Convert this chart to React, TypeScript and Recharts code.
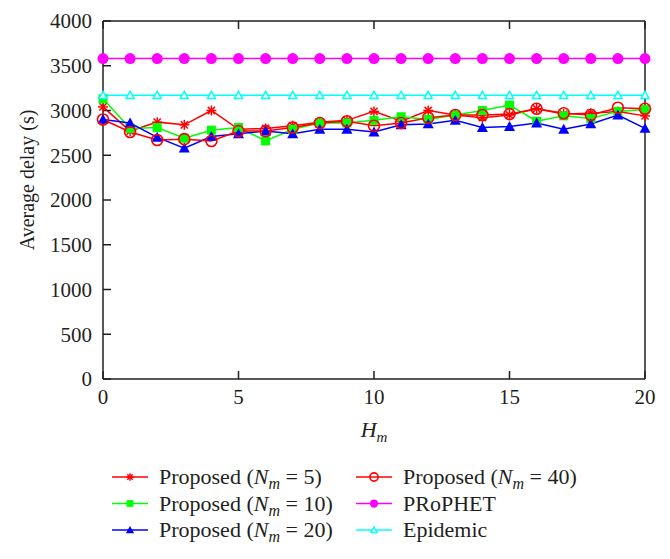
import { Line, LineChart, XAxis, YAxis, Label } from "recharts"

const hm = [0, 1, 2, 3, 4, 5, 6, 7, 8, 9, 10, 11, 12, 13, 14, 15, 16, 17, 18, 19, 20]
const proposed5 = [3040, 2770, 2870, 2840, 3000, 2790, 2800, 2830, 2870, 2890, 2990, 2880, 3000, 2950, 2920, 2950, 3020, 2960, 2970, 2990, 2940]
const proposed10 = [3130, 2800, 2810, 2690, 2780, 2810, 2660, 2790, 2860, 2860, 2890, 2930, 2900, 2950, 3000, 3060, 2880, 2940, 2910, 2990, 3010]
const proposed20 = [2900, 2860, 2700, 2580, 2710, 2740, 2770, 2740, 2790, 2790, 2760, 2840, 2850, 2890, 2810, 2820, 2860, 2790, 2850, 2950, 2800]
const proposed40 = [2900, 2760, 2670, 2680, 2660, 2770, 2770, 2810, 2860, 2880, 2830, 2860, 2920, 2950, 2950, 2960, 3020, 2970, 2950, 3030, 3020]
const prophet = [3580, 3580, 3580, 3580, 3580, 3580, 3580, 3580, 3580, 3580, 3580, 3580, 3580, 3580, 3580, 3580, 3580, 3580, 3580, 3580, 3580]
const epidemic = [3170, 3170, 3170, 3170, 3170, 3170, 3170, 3170, 3170, 3170, 3170, 3170, 3170, 3170, 3170, 3170, 3170, 3170, 3170, 3170, 3170]

const xTicks = [0, 5, 10, 15, 20]
const yTicks = [0, 500, 1000, 1500, 2000, 2500, 3000, 3500, 4000]

const RED = "#ff0000"
const GREEN = "#00ff00"
const BLUE = "#0000ff"
const MAGENTA = "#ff00ff"
const CYAN = "#00ffff"
const FONT = "'Liberation Serif', 'Times New Roman', serif"

const data = hm.map((h, i) => ({
  h,
  p5: proposed5[i],
  p10: proposed10[i],
  p20: proposed20[i],
  p40: proposed40[i],
  prophet: prophet[i],
  epidemic: epidemic[i],
}))

type Shape = "star" | "square" | "triangle" | "circle" | "dot" | "openTriangle"

function Marker({ shape, cx, cy, color, s = 1 }: { shape: Shape; cx: number; cy: number; color: string; s?: number }) {
  if (shape === "star") {
    const r = 5 * s
    const d = r * 0.72
    return (
      <g stroke={color} strokeWidth={1.5}>
        <line x1={cx - r} y1={cy} x2={cx + r} y2={cy} />
        <line x1={cx} y1={cy - r} x2={cx} y2={cy + r} />
        <line x1={cx - d} y1={cy - d} x2={cx + d} y2={cy + d} />
        <line x1={cx - d} y1={cy + d} x2={cx + d} y2={cy - d} />
      </g>
    )
  }
  if (shape === "square") {
    const r = 4.5 * s
    return <rect x={cx - r} y={cy - r} width={2 * r} height={2 * r} fill={color} />
  }
  if (shape === "triangle") {
    const r = 5.5 * s
    return <polygon points={`${cx},${cy - r} ${cx + r},${cy + r * 0.8} ${cx - r},${cy + r * 0.8}`} fill={color} />
  }
  if (shape === "openTriangle") {
    const r = 4 * s
    return (
      <polygon
        points={`${cx},${cy - r} ${cx + r},${cy + r * 0.8} ${cx - r},${cy + r * 0.8}`}
        fill="white"
        stroke={color}
        strokeWidth={1.5}
      />
    )
  }
  if (shape === "dot") {
    return <circle cx={cx} cy={cy} r={5.5 * s} fill={color} />
  }
  return <circle cx={cx} cy={cy} r={5.5 * s} fill="none" stroke={color} strokeWidth={1.6} />
}

const dotFor = (shape: Shape, color: string) => (props: any) => (
  <Marker key={`${shape}-${props.index}`} shape={shape} cx={props.cx} cy={props.cy} color={color} />
)

const series: { key: string; color: string; shape: Shape }[] = [
  { key: "p5", color: RED, shape: "star" },
  { key: "p10", color: GREEN, shape: "square" },
  { key: "p20", color: BLUE, shape: "triangle" },
  { key: "p40", color: RED, shape: "circle" },
  { key: "prophet", color: MAGENTA, shape: "dot" },
  { key: "epidemic", color: CYAN, shape: "openTriangle" },
]

const legendItems: { n?: string; name?: string; color: string; shape: Shape; col: number; row: number }[] = [
  { n: "5", color: RED, shape: "star", col: 0, row: 0 },
  { n: "10", color: GREEN, shape: "square", col: 0, row: 1 },
  { n: "20", color: BLUE, shape: "triangle", col: 0, row: 2 },
  { n: "40", color: RED, shape: "circle", col: 1, row: 0 },
  { name: "PRoPHET", color: MAGENTA, shape: "dot", col: 1, row: 1 },
  { name: "Epidemic", color: CYAN, shape: "openTriangle", col: 1, row: 2 },
]

function ChartLegend() {
  const colX = [112, 356]
  const rowY = [477, 503.5, 530]
  return (
    <svg width={670} height={100} style={{ position: "absolute", left: 0, top: 0, overflow: "visible" }}>
      {legendItems.map((it) => {
        const x = colX[it.col]
        const y = rowY[it.row]
        return (
          <g key={`${it.col}-${it.row}`}>
            <line x1={x} y1={y} x2={x + 36} y2={y} stroke={it.color} strokeWidth={1.5} />
            <Marker shape={it.shape} cx={x + 18} cy={y} color={it.color} s={0.75} />
            <text x={x + 47} y={y + 7} fontFamily={FONT} fontSize={22} fill="#231f20">
              {it.name ? (
                it.name
              ) : (
                <>
                  <tspan>Proposed (</tspan>
                  <tspan fontStyle="italic">N</tspan>
                  <tspan fontStyle="italic" fontSize={16} dy={5}>m</tspan>
                  <tspan dy={-5}> = {it.n})</tspan>
                </>
              )}
            </text>
          </g>
        )
      })}
    </svg>
  )
}

const tickStyle = { fontFamily: FONT, fontSize: 21, fill: "#231f20" }
const axisLine = { stroke: "#231f20", strokeWidth: 1.5 }
const empty = () => <g />

export default function App() {
  return (
    <div style={{ position: "absolute", left: 0, top: 0, width: 670, height: 559, background: "#fff" }}>
      <LineChart width={670} height={559} data={data} margin={{ top: 20, right: 24, left: 0, bottom: 150 }}>
        <XAxis
          xAxisId="b"
          dataKey="h"
          type="number"
          domain={[0, 20]}
          ticks={xTicks}
          height={30}
          tickSize={-8}
          tickMargin={18}
          tick={tickStyle}
          axisLine={axisLine}
          tickLine={axisLine}
        >
          <Label
            content={() => (
              <text x={374} y={437} textAnchor="middle" fontFamily={FONT} fontSize={22} fill="#231f20" fontStyle="italic">
                <tspan>H</tspan>
                <tspan fontSize={15} dy={5}>m</tspan>
              </text>
            )}
          />
        </XAxis>
        <XAxis
          xAxisId="t"
          orientation="top"
          dataKey="h"
          type="number"
          domain={[0, 20]}
          ticks={xTicks}
          height={1}
          tickSize={-8}
          tick={empty}
          axisLine={axisLine}
          tickLine={axisLine}
        />
        <YAxis
          yAxisId="l"
          domain={[0, 4000]}
          ticks={yTicks}
          width={103}
          tickSize={-8}
          tickMargin={19}
          tick={tickStyle}
          axisLine={axisLine}
          tickLine={axisLine}
        >
          <Label
            content={() => (
              <text
                x={34}
                y={180}
                transform="rotate(-90, 34, 180)"
                textAnchor="middle"
                fontFamily={FONT}
                fontSize={20}
                fill="#231f20"
              >
                Average delay (s)
              </text>
            )}
          />
        </YAxis>
        <YAxis
          yAxisId="r"
          orientation="right"
          domain={[0, 4000]}
          ticks={yTicks}
          width={1}
          tickSize={-8}
          tick={empty}
          axisLine={axisLine}
          tickLine={axisLine}
        />
        {series.map((s) => (
          <Line
            key={s.key}
            xAxisId="b"
            yAxisId="l"
            type="linear"
            dataKey={s.key}
            stroke={s.color}
            strokeWidth={1.5}
            dot={dotFor(s.shape, s.color)}
            activeDot={false}
            isAnimationActive={false}
          />
        ))}
      </LineChart>
      <ChartLegend />
    </div>
  )
}
